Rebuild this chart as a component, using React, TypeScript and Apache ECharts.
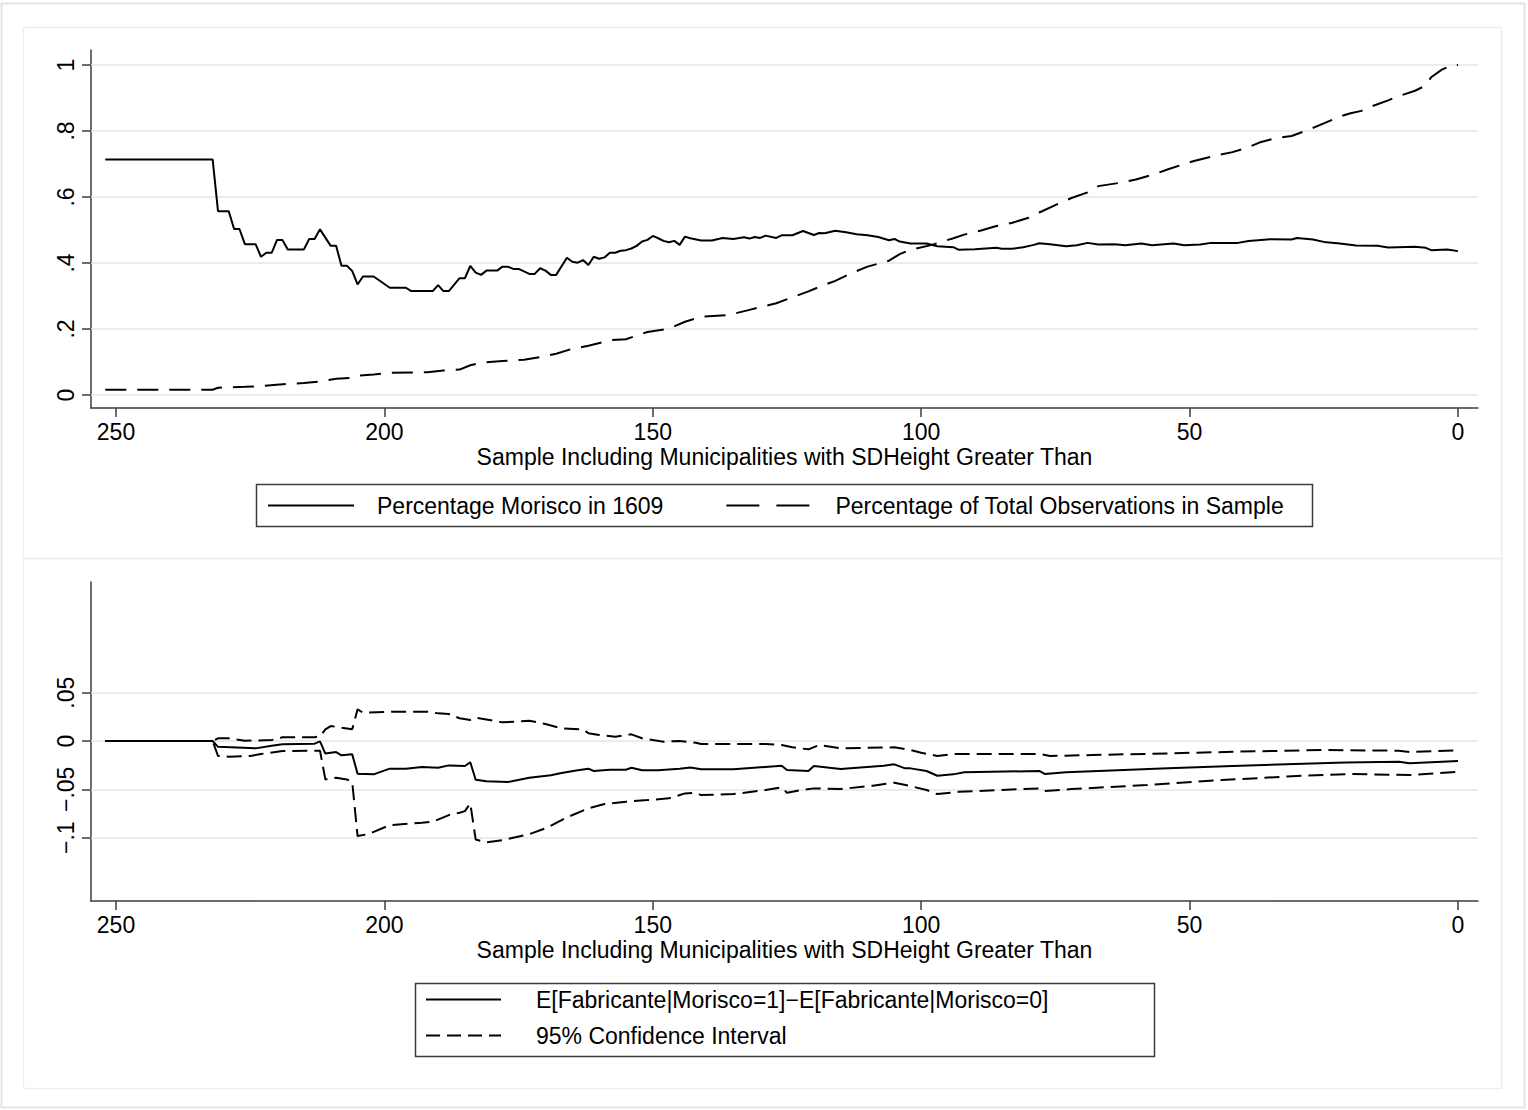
import React, { useEffect, useRef } from "react";
import * as echarts from "echarts";

// ---------- data ----------
const xTicks = [0, 50, 100, 150, 200, 250];
const topYTicks = [0, 0.2, 0.4, 0.6, 0.8, 1];
const bottomYTicks = [-0.1, -0.05, 0, 0.05];

const xTitle = "Sample Including Municipalities with SDHeight Greater Than";
const nameMorisco = "Percentage Morisco in 1609";
const nameShare = "Percentage of Total Observations in Sample";
const nameDiff = "E[Fabricante|Morisco=1]\u2212E[Fabricante|Morisco=0]";
const nameCI = "95% Confidence Interval";

const moriscoX = [252, 232, 231, 229, 228, 227, 226, 224, 223, 222, 221, 220, 219, 218, 215, 214, 213, 212, 210, 209, 208, 207, 206, 205, 204, 202, 199, 196, 195, 191, 190, 189, 188, 186, 185, 184, 183, 182, 181, 179, 178, 177, 176, 175, 173, 172, 171, 170, 169, 168, 166, 165, 164, 163, 162, 161, 160, 159, 158, 157, 156, 155, 154, 153, 152, 151, 150, 149, 148, 147, 146, 145, 144, 143, 141, 139, 137, 135, 133, 132, 131, 130, 129, 127, 126, 124, 122, 120, 119, 118, 116, 114, 112, 110, 108, 106, 105, 104, 102, 99, 97, 94, 93, 90, 88, 86, 85, 83, 81, 79, 78, 76, 73, 71, 69, 67, 64, 62, 59, 57, 53, 51, 48, 46, 41, 39, 35, 31, 30, 27, 25, 22, 19, 15, 13, 8, 6, 5, 2, 0];
const moriscoY = [0.714, 0.714, 0.557, 0.557, 0.503, 0.503, 0.457, 0.457, 0.419, 0.431, 0.431, 0.47, 0.47, 0.441, 0.441, 0.473, 0.473, 0.502, 0.452, 0.452, 0.392, 0.392, 0.376, 0.335, 0.359, 0.359, 0.325, 0.325, 0.315, 0.315, 0.333, 0.315, 0.315, 0.354, 0.354, 0.391, 0.371, 0.364, 0.377, 0.377, 0.389, 0.389, 0.382, 0.382, 0.367, 0.367, 0.384, 0.377, 0.364, 0.364, 0.416, 0.404, 0.401, 0.409, 0.394, 0.419, 0.413, 0.417, 0.431, 0.431, 0.437, 0.439, 0.444, 0.452, 0.465, 0.47, 0.482, 0.475, 0.467, 0.463, 0.467, 0.455, 0.48, 0.475, 0.468, 0.468, 0.476, 0.473, 0.478, 0.474, 0.479, 0.476, 0.483, 0.476, 0.484, 0.484, 0.497, 0.485, 0.491, 0.49, 0.498, 0.493, 0.487, 0.484, 0.479, 0.469, 0.473, 0.465, 0.459, 0.459, 0.451, 0.448, 0.44, 0.442, 0.444, 0.446, 0.443, 0.443, 0.448, 0.455, 0.46, 0.457, 0.451, 0.454, 0.461, 0.456, 0.457, 0.454, 0.459, 0.454, 0.459, 0.454, 0.456, 0.461, 0.461, 0.467, 0.472, 0.471, 0.476, 0.471, 0.464, 0.459, 0.453, 0.452, 0.447, 0.449, 0.446, 0.439, 0.441, 0.436];

const shareX = [252, 232, 231, 226, 223, 218, 215, 212, 209, 206, 205, 202, 199, 192, 189, 186, 184, 182, 178, 174, 171, 168, 165, 162, 158, 155, 151, 147, 144, 141, 136, 132, 127, 124, 121, 118, 116, 113, 110, 106, 104, 102, 98, 94, 92, 89, 86, 83, 80, 78, 74, 72, 69, 67, 63, 60, 57, 54, 51, 49, 45, 42, 39, 37, 34, 31, 28, 25, 22, 20, 18, 16, 13, 11, 8, 6, 5, 3, 1, 0];
const shareY = [0.016, 0.016, 0.022, 0.025, 0.027, 0.034, 0.036, 0.041, 0.049, 0.052, 0.059, 0.062, 0.067, 0.069, 0.074, 0.077, 0.09, 0.098, 0.103, 0.107, 0.115, 0.125, 0.14, 0.149, 0.166, 0.169, 0.191, 0.201, 0.222, 0.237, 0.242, 0.258, 0.278, 0.296, 0.314, 0.334, 0.346, 0.369, 0.389, 0.407, 0.427, 0.44, 0.455, 0.475, 0.486, 0.498, 0.512, 0.522, 0.537, 0.553, 0.583, 0.597, 0.614, 0.633, 0.643, 0.653, 0.667, 0.684, 0.7, 0.71, 0.726, 0.736, 0.751, 0.765, 0.778, 0.785, 0.803, 0.823, 0.844, 0.854, 0.861, 0.875, 0.893, 0.906, 0.922, 0.938, 0.963, 0.986, 1.0, 1.0];

const diffX = [252, 232, 231, 224, 221, 219, 213, 212, 211, 209, 208, 206, 205, 202, 199, 196, 193, 190, 188, 185, 184, 183, 181, 177, 173, 169, 167, 164, 162, 161, 158, 155, 154, 152, 149, 145, 143, 141, 135, 126, 125, 121, 120, 115, 107, 105, 103, 102, 99, 97, 94, 92, 78, 77, 73, 67, 54, 42, 32, 21, 11, 9, 0];
const diffY = [0, 0, -0.006, -0.0076, -0.005, -0.0034, -0.0027, -0.0003, -0.013, -0.0114, -0.0148, -0.0138, -0.0338, -0.0345, -0.0286, -0.0286, -0.0269, -0.0276, -0.0252, -0.0259, -0.022, -0.04, -0.0417, -0.0424, -0.0379, -0.0355, -0.0331, -0.0303, -0.0286, -0.031, -0.0297, -0.0297, -0.0276, -0.0303, -0.0303, -0.0286, -0.0273, -0.0293, -0.0293, -0.0255, -0.03, -0.031, -0.0259, -0.029, -0.0255, -0.0241, -0.0283, -0.0283, -0.031, -0.0359, -0.0345, -0.0324, -0.031, -0.0341, -0.0324, -0.031, -0.0283, -0.0259, -0.0241, -0.0221, -0.0214, -0.0231, -0.0207];

const ciUpperX = [252, 232, 231, 229, 226, 221, 219, 213, 212, 211, 210, 206, 205, 204, 198, 192, 190, 188, 186, 184, 183, 178, 173, 170, 167, 163, 162, 160, 157, 154, 152, 148, 145, 142, 141, 129, 126, 124, 121, 119, 115, 105, 102, 100, 97, 94, 78, 76, 68, 54, 41, 25, 11, 9, 0];
const ciUpperY = [0, 0, 0.0028, 0.0028, 0.0003, 0.001, 0.0038, 0.0038, 0.005, 0.0121, 0.0155, 0.0121, 0.0328, 0.0293, 0.0304, 0.0304, 0.0286, 0.0279, 0.0235, 0.0218, 0.0242, 0.0193, 0.021, 0.0176, 0.0131, 0.0121, 0.008, 0.0062, 0.0045, 0.0069, 0.0028, -0.0007, 0, -0.0017, -0.0031, -0.0031, -0.0041, -0.0065, -0.0086, -0.0041, -0.0076, -0.0065, -0.0093, -0.0121, -0.0155, -0.0134, -0.0134, -0.0155, -0.0145, -0.0128, -0.011, -0.0093, -0.01, -0.0114, -0.0097];

const ciLowerX = [252, 232, 231, 229, 225, 223, 219, 212, 211, 209, 207, 206, 205, 203, 199, 193, 191, 188, 186, 185, 184, 183, 181, 178, 173, 170, 166, 162, 159, 155, 151, 147, 144, 142, 141, 135, 129, 126, 125, 123, 120, 115, 109, 105, 102, 99, 97, 93, 78, 77, 72, 58, 44, 30, 20, 9, 0];
const ciLowerY = [0, 0, -0.0155, -0.0162, -0.0155, -0.0134, -0.0103, -0.01, -0.0397, -0.038, -0.0397, -0.0421, -0.0983, -0.0963, -0.087, -0.0846, -0.0835, -0.0766, -0.0742, -0.0725, -0.0645, -0.1018, -0.1049, -0.1025, -0.0963, -0.0904, -0.079, -0.0697, -0.0652, -0.0628, -0.0611, -0.0593, -0.0542, -0.0535, -0.0559, -0.0549, -0.0507, -0.048, -0.0535, -0.0514, -0.049, -0.0497, -0.0462, -0.0431, -0.0466, -0.0507, -0.0549, -0.0525, -0.049, -0.0518, -0.0497, -0.0455, -0.0404, -0.0362, -0.0342, -0.0352, -0.0318];

// ---------- helpers ----------
const zip = (xs: number[], ys: number[]) => xs.map((x, i) => [x, ys[i]]);
const fmtY = (v: number) => {
  const r = Math.round(v * 1000) / 1000;
  if (r === 0) return "0";
  let s = String(r).replace(/^(-?)0\./, "$1.");
  return s.replace("-", "\u2212");
};

const FONT = "'Liberation Sans', Arial, sans-serif";
const AXIS_COLOR = "#3c3c3c";
const GRID_COLOR = "#e6e6e6";
const FS = 23;

const xAxisCommon = (gridIndex: number) => ({
  type: "value" as const,
  gridIndex,
  inverse: true,
  min: -3.73,
  max: 254.66,
  name: xTitle,
  nameLocation: "middle" as const,
  nameGap: 37,
  nameTextStyle: { fontFamily: FONT, fontSize: FS, color: "#000" },
  axisLine: { onZero: false, lineStyle: { color: AXIS_COLOR, width: 1.5 } },
  axisTick: { show: true, length: 9, inside: false, customValues: xTicks, lineStyle: { color: AXIS_COLOR, width: 1.5 } },
  axisLabel: { customValues: xTicks, margin: 12, fontFamily: FONT, fontSize: FS, color: "#000", formatter: (v: number) => String(v) },
  splitLine: { show: false },
});

const yAxisCommon = (gridIndex: number, min: number, max: number, ticks: number[]) => ({
  type: "value" as const,
  gridIndex,
  min,
  max,
  axisLine: { show: true, onZero: false, lineStyle: { color: AXIS_COLOR, width: 1.5 } },
  axisTick: { show: true, length: 9, inside: false, customValues: ticks, lineStyle: { color: AXIS_COLOR, width: 1.5 } },
  axisLabel: { customValues: ticks, rotate: 90, margin: 14, fontFamily: FONT, fontSize: FS, color: "#000", formatter: fmtY },
  splitLine: { show: false },
});

const gridSeries = (axisIndex: number, ticks: number[]) => ({
  type: "line" as const,
  name: "grid" + axisIndex,
  xAxisIndex: axisIndex,
  yAxisIndex: axisIndex,
  data: [],
  z: 1,
  silent: true,
  markLine: {
    silent: true,
    z: 1,
    symbol: ["none", "none"],
    label: { show: false },
    lineStyle: { color: GRID_COLOR, width: 1.5, type: "solid" },
    animation: false,
    data: ticks.map((v) => ({ yAxis: v })),
  },
});

const lineSeries = (name: string, axisIndex: number, data: number[][], dash: number[] | null) => ({
  type: "line" as const,
  name,
  xAxisIndex: axisIndex,
  yAxisIndex: axisIndex,
  data,
  symbol: "none",
  showSymbol: false,
  z: 3,
  lineStyle: { color: "#000", width: 2, type: dash ? dash : "solid" },
  itemStyle: { color: "#000" },
});

const legendItem = (name: string, dash: number[] | null) => ({
  name,
  itemStyle: { opacity: 0 },
  lineStyle: { type: dash ? dash : "solid", width: 2, color: "#000", opacity: 1 },
});

export default function App() {
  const ref = useRef<HTMLDivElement>(null);
  useEffect(() => {
    if (!ref.current) return;
    const chart = echarts.init(ref.current, null, { renderer: "svg" });
    const option: any = {
      animation: false,
      backgroundColor: "#ffffff",
      textStyle: { fontFamily: FONT },
      grid: [
        { left: 91, top: 50, width: 1387, height: 358 },
        { left: 91, top: 582, width: 1387, height: 319 },
      ],
      xAxis: [xAxisCommon(0), xAxisCommon(1)],
      yAxis: [
        yAxisCommon(0, -0.0394, 1.0455, topYTicks),
        yAxisCommon(1, -0.1655, 0.1645, bottomYTicks),
      ],
      legend: [
        {
          left: 267,
          top: 494,
          padding: 0,
          orient: "horizontal",
          itemWidth: 86,
          itemHeight: 14,
          itemGap: 62,
          selectedMode: false,
          textStyle: { fontFamily: FONT, fontSize: FS, color: "#000", padding: [0, 0, 0, 18] },
          data: [legendItem(nameMorisco, null), legendItem(nameShare, [33, 17])],
        },
        {
          left: 425,
          top: 988,
          padding: 0,
          orient: "vertical",
          itemWidth: 75,
          itemHeight: 14,
          itemGap: 13,
          selectedMode: false,
          textStyle: { fontFamily: FONT, fontSize: FS, color: "#000", padding: [0, 0, 0, 30] },
          data: [legendItem(nameDiff, null), legendItem(nameCI, [14, 7])],
        },
      ],
      graphic: [
        { type: "rect", z: -10, shape: { x: 1.5, y: 3.5, width: 1523, height: 1104 }, style: { fill: "none", stroke: "#e4e4e4", lineWidth: 2 } },
        { type: "rect", z: -9, shape: { x: 23.5, y: 27.5, width: 1478, height: 531 }, style: { fill: "none", stroke: "#eeeeee", lineWidth: 1.5 } },
        { type: "rect", z: -9, shape: { x: 23.5, y: 558.5, width: 1478, height: 530 }, style: { fill: "none", stroke: "#eeeeee", lineWidth: 1.5 } },
        { type: "rect", z: 5, shape: { x: 256.5, y: 484.5, width: 1056, height: 42 }, style: { fill: "none", stroke: AXIS_COLOR, lineWidth: 1.5 } },
        { type: "rect", z: 5, shape: { x: 415.5, y: 983.5, width: 739, height: 73 }, style: { fill: "none", stroke: AXIS_COLOR, lineWidth: 1.5 } },
      ],
      series: [
        gridSeries(0, topYTicks),
        gridSeries(1, bottomYTicks),
        lineSeries(nameMorisco, 0, zip(moriscoX, moriscoY), null),
        lineSeries(nameShare, 0, zip(shareX, shareY), [21, 11]),
        lineSeries(nameDiff, 1, zip(diffX, diffY), null),
        lineSeries(nameCI, 1, zip(ciUpperX, ciUpperY), [15, 7]),
        lineSeries(nameCI, 1, zip(ciLowerX, ciLowerY), [15, 7]),
      ],
    };
    chart.setOption(option);
    return () => chart.dispose();
  }, []);
  return (
    <div
      ref={ref}
      style={{ position: "fixed", left: 0, top: 0, width: 1528, height: 1110, background: "#fff" }}
    />
  );
}
